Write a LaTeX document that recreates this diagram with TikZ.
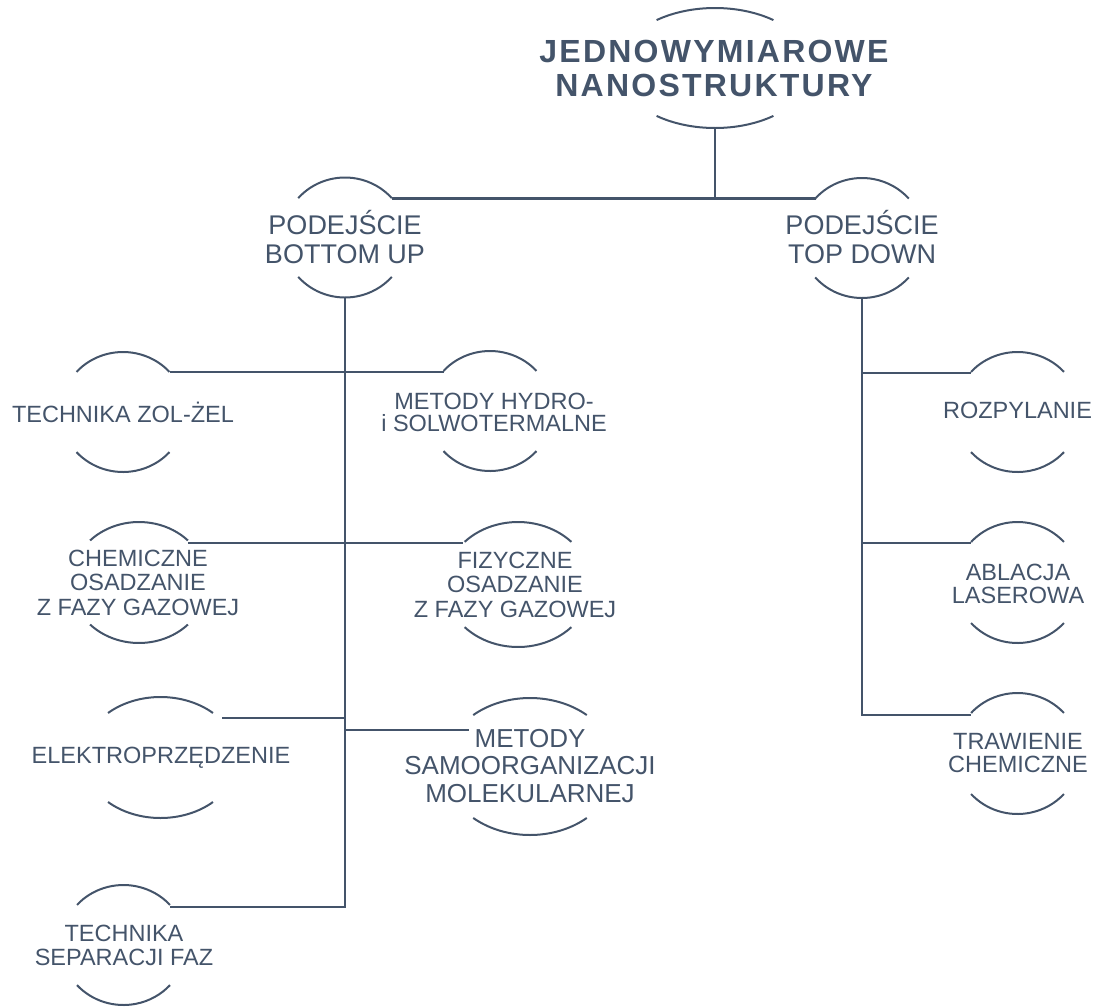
\documentclass[tikz,border=0pt]{standalone}
\usepackage{fontspec}
\setmainfont{Liberation Sans}
\newfontfamily\rootfont[LetterSpace=7]{Liberation Sans}
\definecolor{ink}{HTML}{44546A}
\tikzset{
  link/.style={draw=ink, line width=2.7pt},
  arcline/.style={draw=ink, line width=2pt},
  lbl/.style={text=ink, align=center, inner sep=0pt, font=\fontsize{23.5}{24.5}\selectfont},
}
% #1 centre coordinate, #2 x radius, #3 y radius, #4 half-opening angle
\newcommand\ovarcs[4]{%
  \draw[arcline] ([shift={(180-#4:#2pt and #3pt)}]#1) arc[start angle=180-#4, end angle=#4, x radius=#2pt, y radius=#3pt];
  \draw[arcline] ([shift={(180+#4:#2pt and #3pt)}]#1) arc[start angle=180+#4, end angle=360-#4, x radius=#2pt, y radius=#3pt];
}
\begin{document}
\begin{tikzpicture}[x=1pt,y=-1pt]
\useasboundingbox (0,0) rectangle (1098,1007);

% arc centres
\coordinate (root-c) at (715,68);
\coordinate (bu-c) at (345,237.5);
\coordinate (td-c) at (862,238);
\coordinate (zol-c) at (123,412);
\coordinate (hyd-c) at (490,411);
\coordinate (cvd-c) at (139,582.5);
\coordinate (pvd-c) at (518,584.5);
\coordinate (ele-c) at (160.5,757.5);
\coordinate (sam-c) at (530,766.5);
\coordinate (sep-c) at (123.5,945);
\coordinate (roz-c) at (1017.5,412);
\coordinate (abl-c) at (1017.5,582.5);
\coordinate (tra-c) at (1017.5,753.5);

% labels
\node[lbl, font=\rootfont\bfseries\fontsize{32}{34}\selectfont] (root) at (714,68) {JEDNOWYMIAROWE\\NANOSTRUKTURY};
\node[lbl, font=\fontsize{27}{29}\selectfont] (bu) at (345,237.5) {PODEJŚCIE\\BOTTOM UP};
\node[lbl, font=\fontsize{27}{29}\selectfont] (td) at (862,237.5) {PODEJŚCIE\\TOP DOWN};
\node[lbl] (zol) at (123,412) {TECHNIKA ZOL-ŻEL};
\node[lbl, font=\fontsize{23.5}{22}\selectfont] (hyd) at (494,412) {METODY HYDRO-\\i SOLWOTERMALNE};
\node[lbl] (cvd) at (138,582.5) {CHEMICZNE\\OSADZANIE\\Z FAZY GAZOWEJ};
\node[lbl] (pvd) at (515,584.5) {FIZYCZNE\\OSADZANIE\\Z FAZY GAZOWEJ};
\node[lbl] (ele) at (161,758) {ELEKTROPRZĘDZENIE};
\node[lbl, font=\fontsize{26}{27.5}\selectfont] (sam) at (530,766) {METODY\\SAMOORGANIZACJI\\MOLEKULARNEJ};
\node[lbl] (sep) at (124,945.5) {TECHNIKA\\SEPARACJI FAZ};
\node[lbl] (roz) at (1017.5,410) {ROZPYLANIE};
\node[lbl, font=\fontsize{23.5}{23}\selectfont] (abl) at (1018,583.5) {ABLACJA\\LASEROWA};
\node[lbl, font=\fontsize{23.5}{23}\selectfont] (tra) at (1018,753.5) {TRAWIENIE\\CHEMICZNE};

% arcs
\ovarcs{root-c}{97}{60}{53}
\ovarcs{bu-c}{62}{60}{41}
\ovarcs{td-c}{62}{60}{41}
\ovarcs{zol-c}{62.5}{60}{42}
\ovarcs{hyd-c}{62.5}{60}{42}
\ovarcs{cvd-c}{68}{60.5}{44}
\ovarcs{pvd-c}{73}{62.5}{43}
\ovarcs{ele-c}{77.5}{60.5}{47.4}
\ovarcs{sam-c}{86}{68.5}{48.7}
\ovarcs{sep-c}{62.5}{60}{42}
\ovarcs{roz-c}{62.5}{60}{42}
\ovarcs{abl-c}{62.5}{60.5}{42}
\ovarcs{tra-c}{62.5}{60.5}{42}

% connection points
\coordinate (root-out) at (715,128);
\coordinate (bu-in) at (391.5,198.5);
\coordinate (td-in) at (815.5,198.5);
\coordinate (bu-out) at (345,297.5);
\coordinate (td-out) at (862,298);
\coordinate (zol-in) at (169.5,372);
\coordinate (hyd-in) at (443.5,372);
\coordinate (cvd-in) at (188,543);
\coordinate (pvd-in) at (463,543);
\coordinate (ele-in) at (222,718);
\coordinate (sam-in) at (469,730);
\coordinate (sep-in) at (170,907);
\coordinate (roz-in) at (971,373);
\coordinate (abl-in) at (971,543);
\coordinate (tra-in) at (971,715);

% connectors
\draw[link] (bu-in) -- (td-in);
\draw[link] (root-out) -- (root-out |- bu-in);
\draw[link] (bu-out) |- (sep-in);
\draw[link] (zol-in) -- (hyd-in);
\draw[link] (cvd-in) -- (pvd-in);
\draw[link] (ele-in) -- (bu-out |- ele-in);
\draw[link] (bu-out |- sam-in) -- (sam-in);
\draw[link] (td-out) |- (tra-in);
\draw[link] (td-out |- roz-in) -- (roz-in);
\draw[link] (td-out |- abl-in) -- (abl-in);
\end{tikzpicture}
\end{document}
